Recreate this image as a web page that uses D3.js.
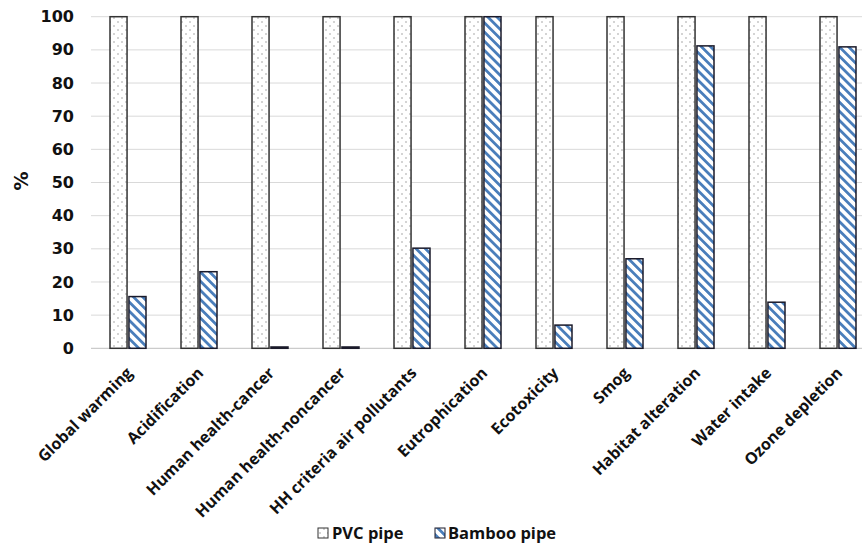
<!DOCTYPE html>
<html><head><meta charset="utf-8">
<script src="https://cdn.jsdelivr.net/npm/d3@7"></script>
<style>body{margin:0;background:#fff}svg{display:block}</style>
</head><body>
<svg id="c" width="862" height="544"></svg>
<script>
const categories = ["Global warming","Acidification","Human health-cancer","Human health-noncancer","HH criteria air pollutants","Eutrophication","Ecotoxicity","Smog","Habitat alteration","Water intake","Ozone depletion"];
const pvc = [100,100,100,100,100,100,100,100,100,100,100];
const bamboo = [15.6,23.1,0.4,0.4,30.2,100,7.0,27.0,91.2,13.9,90.9];
const seriesNames = ["PVC pipe","Bamboo pipe"];
const yTicks = [0,10,20,30,40,50,60,70,80,90,100];

const svg = d3.select("#c");
const font = "'Open Sans', sans-serif";
const tickFont = "'DejaVu Sans', sans-serif";
const defs = svg.append("defs");
const pd = defs.append("pattern").attr("id","dots").attr("patternUnits","userSpaceOnUse").attr("width",8).attr("height",8);
pd.append("rect").attr("width",8).attr("height",8).attr("fill","#fff");
pd.append("circle").attr("cx",2).attr("cy",2).attr("r",0.7).attr("fill","#8a8a8a");
pd.append("circle").attr("cx",6).attr("cy",6).attr("r",0.7).attr("fill","#8a8a8a");
const ps = defs.append("pattern").attr("id","stripes").attr("patternUnits","userSpaceOnUse").attr("width",6.5).attr("height",6.5).attr("patternTransform","rotate(-45)");
ps.append("rect").attr("width",6.5).attr("height",6.5).attr("fill","#fff");
ps.append("rect").attr("x",0).attr("y",0).attr("width",2.8).attr("height",6.5).attr("fill","#4a7ebb");

const x0 = 92, step = 71;
const x = d3.scaleBand().domain(categories).range([x0, x0 + step*categories.length]).paddingInner(0).paddingOuter(0);
const xs = d3.scaleBand().domain(seriesNames).range([18, 54]).paddingInner(0.1);
const y = d3.scaleLinear().domain([0,100]).range([348.3,16.7]);

// gridlines
svg.append("g").selectAll("line").data(yTicks).join("line")
  .attr("x1",91).attr("x2",862).attr("y1",d=>y(d)).attr("y2",d=>y(d))
  .attr("stroke",d=>d===0?"#bfbfbf":"#d9d9d9").attr("stroke-width",1);

// y labels
const ya = svg.append("g").attr("transform","translate(74,0)").call(d3.axisLeft(y).tickValues(yTicks).tickSize(0).tickPadding(0));
ya.select(".domain").remove();
ya.selectAll("text").attr("font-family",tickFont).attr("font-weight","bold").attr("font-size",16).attr("fill","#111");

svg.append("text").attr("transform","translate(28,181) rotate(-90)").attr("text-anchor","middle")
  .attr("font-family",tickFont).attr("font-weight","bold").attr("font-size",19).attr("fill","#111").text("%");

// bars
const data = categories.map((c,i)=>({c, v:[pvc[i], bamboo[i]]}));
const g = svg.append("g");
data.forEach(d=>{
  seriesNames.forEach((s,j)=>{
    const v = d.v[j];
    g.append("rect")
      .attr("x", x(d.c)+xs(s)).attr("width", xs.bandwidth())
      .attr("y", y(v)).attr("height", Math.max(0.5, y(0)-y(v)))
      .attr("fill", j===0?"url(#dots)":"url(#stripes)")
      .attr("stroke", j===0?"#333":"#1a1a2a").attr("stroke-width",1.5);
  });
});

// x labels
const xa = svg.append("g").call(d3.axisBottom(x).tickSize(0).tickPadding(0));
xa.select(".domain").remove();
xa.selectAll(".tick").attr("transform", d=>`translate(${x(d)+x.bandwidth()/2+6},374)`);
xa.selectAll("text").attr("font-family",font).attr("font-weight","bold").attr("font-size",16).attr("fill","#111")
  .attr("text-anchor","end").attr("dy",0).attr("y",0).attr("transform","rotate(-45)");

// legend
const lg = svg.append("g").attr("transform","translate(318,539)");
lg.append("rect").attr("x",0).attr("y",-11).attr("width",10).attr("height",10).attr("fill","url(#dots)").attr("stroke","#333").attr("stroke-width",1);
lg.append("text").attr("x",14).attr("y",0).attr("font-family",font).attr("font-weight","bold").attr("font-size",16.5).attr("fill","#111").text(seriesNames[0]);
lg.append("rect").attr("x",117).attr("y",-11).attr("width",10).attr("height",10).attr("fill","url(#stripes)").attr("stroke","#1a1a2a").attr("stroke-width",1);
lg.append("text").attr("x",130).attr("y",0).attr("font-family",font).attr("font-weight","bold").attr("font-size",16.5).attr("fill","#111").text(seriesNames[1]);
</script>
</body></html>
